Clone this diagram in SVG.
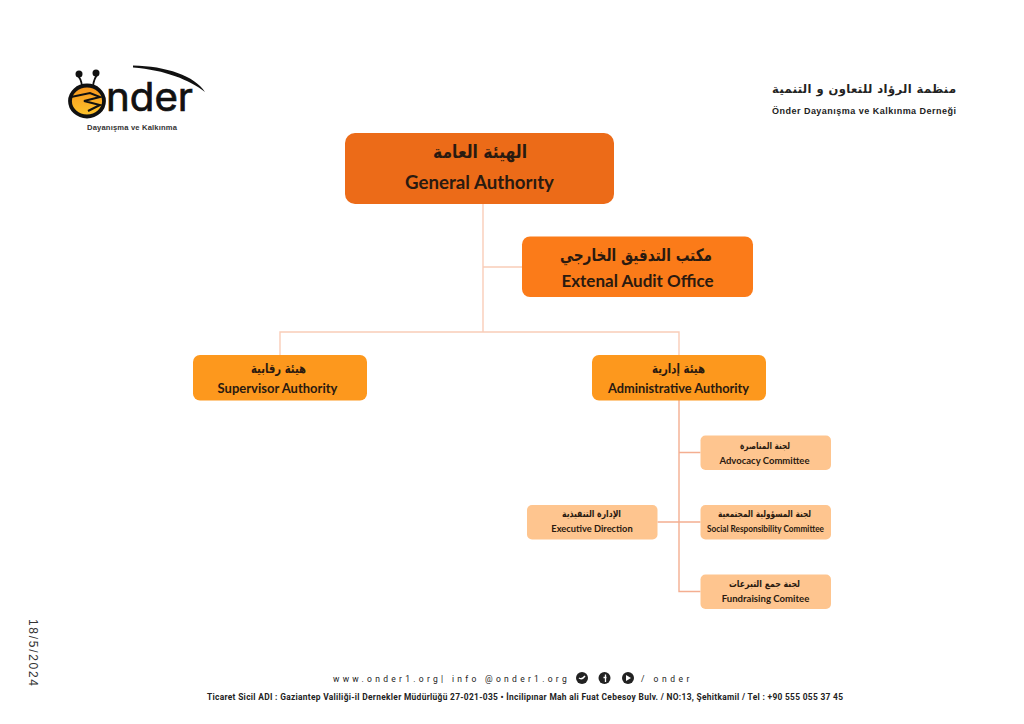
<svg xmlns="http://www.w3.org/2000/svg" width="1024" height="724" viewBox="0 0 1024 724">
<style>
.ar{font-family:"DejaVu Sans","Noto Sans",sans-serif;font-weight:700;fill:#2a1a10;text-anchor:middle;direction:rtl}
.en{font-family:Lato,"Open Sans",sans-serif;font-weight:700;fill:#2a1a10;text-anchor:middle}
.c1{fill:none;stroke:#f9cdb8;stroke-width:1.4}
.c2{fill:none;stroke:#f4ae91;stroke-width:1.4}
.foot{font-family:Roboto,"Liberation Sans",sans-serif;fill:#222}
.a{fill:#ec6b18}.b{fill:#fb7b19}.d{fill:#fd981d}.e{fill:#fec58f}
</style>
<defs>
<linearGradient id="bee" x1="0" y1="0" x2="0" y2="1"><stop offset="0" stop-color="#f7941d"/><stop offset="1" stop-color="#fdc52c"/></linearGradient>
</defs>
<rect width="1024" height="724" fill="#fff"/>
<g id="logo">
<path d="M133 65.500C166 66 195 76 205 92C190 80 165 70 133 67.500Z" fill="#111"/>
<path d="M82 86Q81 78 77 75M93 86Q94 78 98 74" fill="none" stroke="#111" stroke-width="1.800"/>
<circle cx="79" cy="74" r="3.500" fill="#111"/><circle cx="96" cy="73" r="3.500" fill="#111"/>
<ellipse cx="87" cy="101" rx="17" ry="15.500" fill="url(#bee)" stroke="#111" stroke-width="3.800"/>
<path d="M71 97L90 93L100 97L84 101L100 105L88 111" fill="none" stroke="#111" stroke-width="2"/>
<text x="106" y="110.500" font-family="Inter,'Liberation Sans',sans-serif" font-size="39" fill="#111" stroke="#111" stroke-width=".7" textLength="87" lengthAdjust="spacingAndGlyphs">nder</text>
<text x="132" y="130" text-anchor="middle" font-family="'Liberation Sans',sans-serif" font-weight="700" font-size="7.600" fill="#333" textLength="90" lengthAdjust="spacing">Dayanışma ve Kalkınma</text>
</g>
<g id="org-name">
<text x="864" y="93" text-anchor="middle" direction="rtl" font-family="'DejaVu Sans',sans-serif" font-weight="700" font-size="11.500" fill="#222" textLength="184" lengthAdjust="spacing">منظمة الرؤاد للتعاون و التنمية</text>
<text x="864" y="114" text-anchor="middle" font-family="'Liberation Sans',sans-serif" font-weight="700" font-size="9" fill="#222" textLength="184" lengthAdjust="spacing">Önder Dayanışma ve Kalkınma Derneği</text>
</g>
<g id="connectors">
<path class="c1" d="M483 204V332M483 267H522M280 355V332H679V355"/>
<path class="c2" d="M679 400V591.500H700.500M679 452.500H700.500M657.500 522H700.500"/>
</g>
<g id="general-authority">
<rect class="a" x="345" y="133" width="269" height="71" rx="10"/>
<text class="ar" x="480" y="158" font-size="18" textLength="94" lengthAdjust="spacingAndGlyphs">الهيئة العامة</text>
<text class="en" x="479.500" y="189" font-size="18.700">General Authorıty</text>
</g>
<g id="external-audit">
<rect class="b" x="522" y="236.500" width="231" height="60.500" rx="8"/>
<text class="ar" x="636" y="261" font-size="17" textLength="152" lengthAdjust="spacingAndGlyphs">مكتب التدقيق الخارجي</text>
<text class="en" x="637.500" y="287" font-size="17">Extenal Audit Office</text>
</g>
<g id="supervisor-authority">
<rect class="d" x="193" y="355" width="174" height="45.500" rx="7"/>
<text class="ar" x="278.500" y="373" font-size="13" textLength="55" lengthAdjust="spacingAndGlyphs">هيئة رقابية</text>
<text class="en" x="277.500" y="393" font-size="13">Supervisor Authority</text>
</g>
<g id="administrative-authority">
<rect class="d" x="592" y="355" width="174" height="45.500" rx="7"/>
<text class="ar" x="678.500" y="373" font-size="13" textLength="53" lengthAdjust="spacingAndGlyphs">هيئة إدارية</text>
<text class="en" x="678.500" y="393" font-size="12.800">Administrative Authority</text>
</g>
<g id="advocacy-committee">
<rect class="e" x="700.500" y="435.500" width="130.500" height="34.500" rx="5"/>
<text class="ar" x="765" y="449" font-size="9.500" textLength="50" lengthAdjust="spacingAndGlyphs">لجنة المناصرة</text>
<text class="en" x="764.500" y="464" font-size="9.500">Advocacy Committee</text>
</g>
<g id="social-responsibility-committee">
<rect class="e" x="700.500" y="505" width="130.500" height="34.500" rx="5"/>
<text class="ar" x="764.500" y="517" font-size="9.500" textLength="93" lengthAdjust="spacingAndGlyphs">لجنة المسؤولية المجتمعية</text>
<text class="en" x="765.500" y="532" font-size="9" textLength="117" lengthAdjust="spacingAndGlyphs">Social Responsibility Committee</text>
</g>
<g id="fundraising-committee">
<rect class="e" x="700.500" y="574.500" width="130.500" height="34.500" rx="5"/>
<text class="ar" x="764.500" y="587" font-size="9.500" textLength="71" lengthAdjust="spacingAndGlyphs">لجنة جمع التبرعات</text>
<text class="en" x="765.500" y="602" font-size="9.600">Fundraising Comitee</text>
</g>
<g id="executive-direction">
<rect class="e" x="527" y="505" width="130.500" height="34.500" rx="5"/>
<text class="ar" x="591.500" y="517" font-size="9.500" textLength="59" lengthAdjust="spacingAndGlyphs">الإدارة التنفيذية</text>
<text class="en" x="592" y="532" font-size="9.300">Executive Direction</text>
</g>
<text x="29" y="619" transform="rotate(90 29 619)" font-family="'Liberation Sans',sans-serif" font-size="12" letter-spacing="1.700" fill="#333">18/5/2024</text>
<g id="footer">
<text class="foot" x="333" y="682" font-size="8.500" letter-spacing="3.290">www.onder1.org| info @onder1.org</text>
<circle cx="582" cy="678" r="6" fill="#222"/><circle cx="604.500" cy="678" r="6" fill="#222"/><circle cx="628" cy="678" r="6" fill="#222"/>
<path d="M626 675L631 678L626 681Z" fill="#fff"/>
<path d="M579 678Q582 680 585 676" stroke="#fff" stroke-width="1.500" fill="none"/>
<path d="M605.500 674.500V682M603.500 677.500H606.500" stroke="#fff" stroke-width="1.300" fill="none"/>
<text class="foot" x="641" y="682" font-size="8.500" letter-spacing="3.500">/ onder</text>
<text class="foot" x="207" y="699.500" font-size="8.400" font-weight="700" textLength="636" lengthAdjust="spacing">Ticaret Sicil ADI : Gaziantep Valiliği-il Dernekler Müdürlüğü 27-021-035 • İncilipınar Mah ali Fuat Cebesoy Bulv. / NO:13, Şehitkamil / Tel : +90 555 055 37 45</text>
</g>
</svg>
